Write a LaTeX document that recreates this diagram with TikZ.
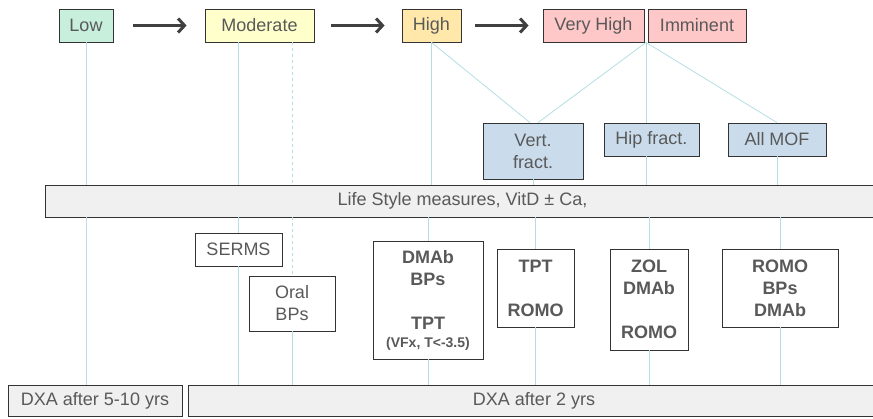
\documentclass[tikz,border=0pt]{standalone}
\usepackage{fontspec}
\setmainfont{Liberation Sans}
\usetikzlibrary{arrows.meta,shadows,calc}

\definecolor{txtgray}{HTML}{595959}
\definecolor{lowgreen}{HTML}{C8EEDC}
\definecolor{modyellow}{HTML}{FFFFCC}
\definecolor{highorange}{HTML}{FFE8AA}
\definecolor{vhpink}{HTML}{FFC8C8}
\definecolor{fractblue}{HTML}{CADCEC}
\definecolor{bargray}{HTML}{F0F0F0}
\definecolor{linkblue}{HTML}{B4DEE4}
\definecolor{arrowgray}{HTML}{404040}

\tikzset{
  box/.style={draw=black!80, line width=0.8pt, text=txtgray, inner sep=0pt,
    align=center, font=\fontsize{18}{22}\selectfont,
    drop shadow={shadow xshift=0pt, shadow yshift=-1.2pt, opacity=0.45}},
  drugbox/.style={box, fill=white, font=\fontsize{18}{22}\selectfont\bfseries},
  barbox/.style={box, fill=bargray},
  link/.style={draw=linkblue, line width=0.8pt},
  flow/.style={draw=arrowgray, line width=3pt,
    -{Straight Barb[length=6.5pt,width=14pt,line width=3pt]}}
}

\begin{document}
\begin{tikzpicture}[x=1pt,y=-1pt]
\useasboundingbox (0,0) rectangle (873,418);

% risk levels
\node[box, fill=lowgreen, minimum width=54pt, minimum height=33pt] (low) at (86,25.5) {Low};
\node[box, fill=modyellow, minimum width=109pt, minimum height=33pt] (mod) at (259.5,25.5) {Moderate};
\node[box, fill=highorange, minimum width=59pt, minimum height=33pt] (high) at (431.5,25.5) {High};
\node[box, fill=vhpink, minimum width=101pt, minimum height=33pt] (vhigh) at (593.5,25.5) {Very High};
\node[box, fill=vhpink, minimum width=98pt, minimum height=33pt] (imm) at (697,25.5) {Imminent};
\coordinate (split) at ($(vhigh.south east)!0.5!(imm.south west)$);

\draw[flow] ([xshift=20pt]low.east) -- ([xshift=-18pt]mod.west);
\draw[flow] ([xshift=17pt]mod.east) -- ([xshift=-17pt]high.west);
\draw[flow] ([xshift=14pt]high.east) -- ([xshift=-14pt]vhigh.west);

% fracture type
\node[box, fill=fractblue, minimum width=100pt, minimum height=56pt] (vert) at (533,151) {Vert.\\fract.};
\node[box, fill=fractblue, minimum width=95pt, minimum height=33pt] (hip) at (651.5,139.5) {Hip fract.};
\node[box, fill=fractblue, minimum width=98pt, minimum height=33pt] (mof) at (777,139.5) {All MOF};

\node[barbox, minimum width=835pt, minimum height=32pt] (life) at (462.5,201) {Life Style measures, VitD \textpm{} Ca,};

% treatments
\node[box, fill=white, minimum width=87pt, minimum height=33pt] (serms) at (238.5,249.5) {SERMS};
\node[box, fill=white, minimum width=86pt, minimum height=55pt] (oral) at (292,303.5) {Oral\\BPs};
\node[drugbox, minimum width=110pt, minimum height=118pt] (dmab) at (428,300)
  {DMAb\\BPs\\[22pt]TPT\\[-4pt]{\fontsize{14}{16}\selectfont(VFx, T<-3.5)}};
\node[drugbox, minimum width=77pt, minimum height=78pt] (tpt) at (535.5,288) {TPT\\[22pt]ROMO};
\node[drugbox, minimum width=78pt, minimum height=101pt] (zol) at (649,299.5) {ZOL\\DMAb\\[22pt]ROMO};
\node[drugbox, minimum width=116pt, minimum height=78pt] (romo) at (780,288) {ROMO\\BPs\\DMAb};

% follow up
\node[barbox, minimum width=174pt, minimum height=31pt] (dxashort) at (95,400.5) {DXA after 5-10 yrs};
\node[barbox, minimum width=692pt, minimum height=31pt] (dxalong) at (534,400.5) {DXA after 2 yrs};

% links above the bar
\draw[link] (low.south) -- (low.south |- life.north);
\draw[link] (mod.south -| serms.north) -- (serms.north |- life.north);
\draw[link, dashed] (mod.south -| oral.north) -- (oral.north |- life.north);
\draw[link] (high.south) -- (high.south |- life.north);
\draw[link] (high.south) -- ([xshift=-3pt]vert.north);
\draw[link] (split) -- ([xshift=5pt]vert.north);
\draw[link] (split) -- (split |- hip.north);
\draw[link] (split) -- (mof.north);
\draw[link] (vert.south) -- (vert.south |- life.north);
\draw[link] (split |- hip.south) -- (split |- life.north);
\draw[link] (mof.south) -- (mof.south |- life.north);

% links below the bar
\draw[link] (low.south |- life.south) -- (low.south |- dxashort.north);
\draw[link] (serms.north |- life.south) -- (serms.north);
\draw[link] (serms.south) -- (serms.south |- dxalong.north);
\draw[link, dashed] (oral.north |- life.south) -- (oral.north);
\draw[link] (oral.south) -- (oral.south |- dxalong.north);
\draw[link] (dmab.north |- life.south) -- (dmab.north);
\draw[link] (dmab.south) -- (dmab.south |- dxalong.north);
\draw[link] (tpt.north |- life.south) -- (tpt.north);
\draw[link] (tpt.south) -- (tpt.south |- dxalong.north);
\draw[link] (zol.north |- life.south) -- (zol.north);
\draw[link] (zol.south) -- (zol.south |- dxalong.north);
\draw[link] (romo.north |- life.south) -- (romo.north);
\draw[link] (romo.south) -- (romo.south |- dxalong.north);
\end{tikzpicture}
\end{document}
